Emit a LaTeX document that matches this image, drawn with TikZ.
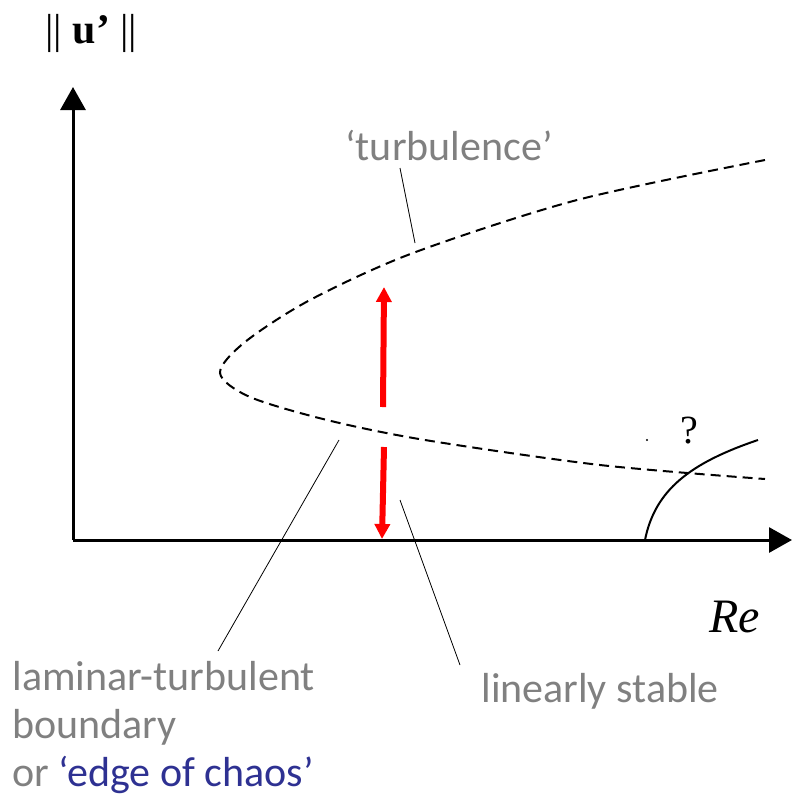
\documentclass[tikz,border=0pt]{standalone}
\usepackage{fontspec}
\setmainfont{Carlito}
\newfontfamily\serif{Liberation Serif}
\usetikzlibrary{arrows.meta}
\definecolor{labelgray}{RGB}{128,128,128}
\definecolor{chaosblue}{RGB}{46,49,146}
\definecolor{arrowred}{RGB}{255,0,0}

\tikzset{
  axis/.style={line width=1.5pt, -{Triangle[width=12.5pt,length=11.5pt]}},
  branch/.style={line width=1pt, dash pattern=on 5pt off 3pt},
  leader/.style={line width=0.4pt},
  jump/.style={draw=arrowred, line width=3pt, -{Triangle[width=7.5pt,length=7.5pt]}},
  label/.style={font=\fontsize{21}{24}\selectfont, text=labelgray, inner sep=0pt, anchor=base west}
}

\begin{document}
\begin{tikzpicture}[x=0.5pt, y=-0.5pt]
            \useasboundingbox (0,0) rectangle (792,800);

            % Axes
            \coordinate (origin) at (73,540);
            \coordinate (ytip) at (73,87);
            \coordinate (xtip) at (792,540);
            \draw[axis] (origin) -- (ytip);
            \draw[axis] (origin) -- (xtip);
            \node[font=\serif\fontsize{21}{24}\selectfont, inner sep=0pt, anchor=base west] (ylab) at (45,43) {||~\textbf{u’}~||};
            \node[font=\serif\itshape\fontsize{24}{28}\selectfont, inner sep=0pt, anchor=base west] (xlab) at (709,632) {Re};

            % Turbulent / edge branch
            \draw[branch] plot[smooth, tension=0.5] coordinates {(765,160) (577,200) (413,253) (310,300) (245,342) (220,373) (250,397) (327,420) (425,440) (600,465) (765,479)};

            % Linear instability branch
            \coordinate (bif) at (645,540);
            \coordinate (bifend) at (758,440);
            \draw[line width=1pt] (bif) .. controls (655,490) and (690,463) .. (bifend);
            \node[font=\serif\fontsize{20}{24}\selectfont, inner sep=0pt, anchor=base west] (qmark) at (680,443) {?};
            \fill (647,440) circle (1.2);

            % Red arrows
            \coordinate (upfrom) at (383,407);
            \coordinate (upto) at (384,287);
            \coordinate (downfrom) at (384,447);
            \coordinate (downto) at (382,539);
            \draw[jump] (upfrom) -- (upto);
            \draw[jump] (downfrom) -- (downto);

            % Labels
            \node[label] (turb) at (345,160) {‘turbulence’};
            \node[label] (lam1) at (12,690) {laminar-turbulent};
            \node[label] (lam2) at (12,738) {boundary};
            \node[label] (lam3) at (12,786) {or \textcolor{chaosblue}{‘edge of chaos’}};
            \node[label] (stable) at (481,702) {linearly stable};

            % Leader lines
            \coordinate (turbend) at (415,243);
            \coordinate (edgeend) at (339,440);
            \coordinate (stableend) at (400,500);
            \draw[leader] (400,168) -- (turbend);
            \draw[leader] (218,651) -- (edgeend);
            \draw[leader] (460,665) -- (stableend);
        \end{tikzpicture}
\end{document}
